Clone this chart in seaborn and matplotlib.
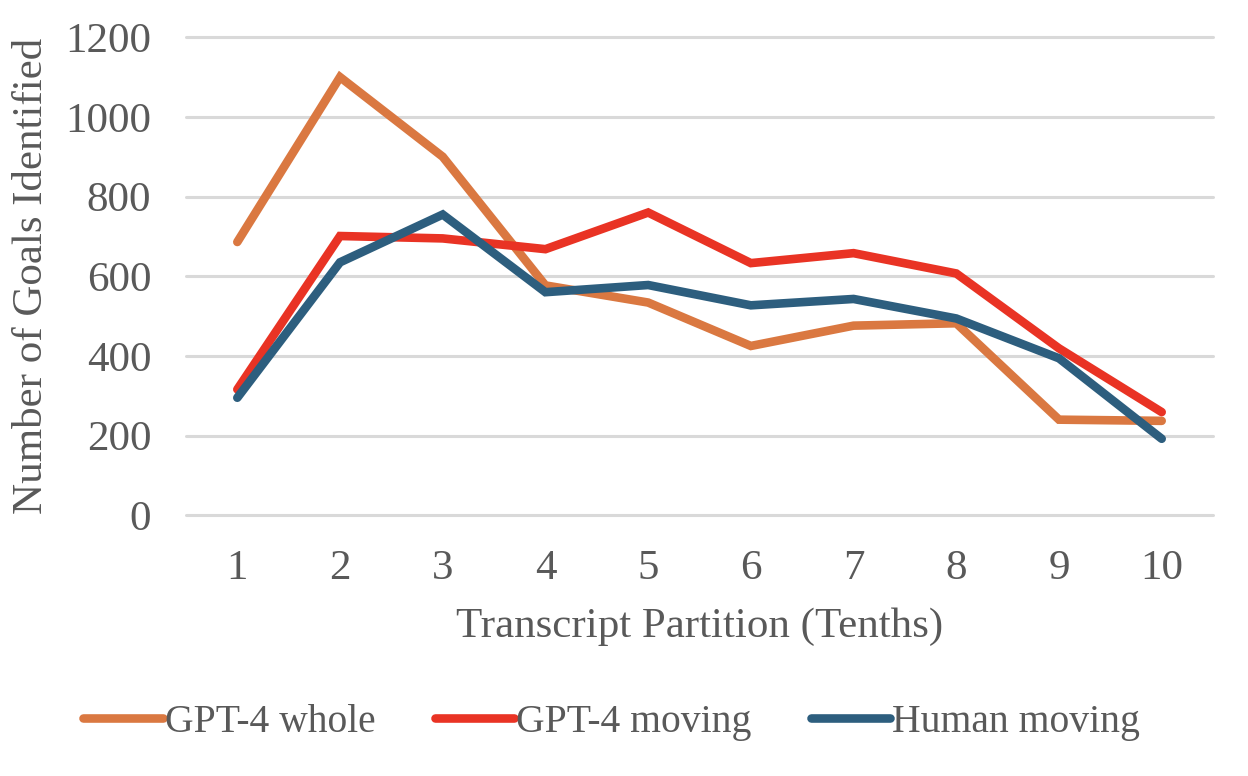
import pandas as pd
import seaborn as sns
import matplotlib.pyplot as plt

# data
partition = [1, 2, 3, 4, 5, 6, 7, 8, 9, 10]
gpt4_whole = [686, 1100, 900, 577, 534, 425, 476, 482, 240, 237]
gpt4_moving = [316, 701, 695, 668, 760, 633, 658, 607, 419, 259]
human_moving = [295, 635, 755, 560, 578, 527, 543, 494, 394, 192]
series_names = ["GPT-4 whole", "GPT-4 moving", "Human moving"]
colors = ["#DA7841", "#E93324", "#2D5E7E"]

df = pd.DataFrame({
    "Transcript Partition (Tenths)": partition * 3,
    "Number of Goals Identified": gpt4_whole + gpt4_moving + human_moving,
    "series": [s for s in series_names for _ in partition],
})

sns.set_style("white")
plt.rcParams["font.family"] = ["Liberation Serif", "DejaVu Serif"]
grey = "#595959"

fig = plt.figure(figsize=(12.48, 7.76), dpi=100)
ax = fig.add_axes([0.149, 0.336, 0.823, 0.616])

sns.lineplot(data=df, x="Transcript Partition (Tenths)", y="Number of Goals Identified",
             hue="series", palette=colors, linewidth=6.2, ax=ax,
             solid_capstyle="round", solid_joinstyle="miter")

ax.set_xlim(0.5, 10.5)
ax.set_ylim(0, 1200)
ax.set_xticks(partition)
ax.set_yticks(range(0, 1201, 200))
ax.yaxis.grid(True, color="#D9D9D9", linewidth=2.2)
for gl in ax.get_ygridlines():
    gl.set_clip_on(False)
ax.set_axisbelow(True)
for s in ax.spines.values():
    s.set_visible(False)
ax.tick_params(axis="both", length=0, labelsize=31, labelcolor=grey)
ax.tick_params(axis="x", pad=25)
ax.tick_params(axis="y", pad=25)
ax.set_xlabel("Transcript Partition (Tenths)", fontsize=31, color=grey, labelpad=14)
ax.set_ylabel("Number of Goals Identified", fontsize=31, color=grey, labelpad=10)

ax.legend(loc="center", bbox_to_anchor=(0.49, 0.069), bbox_transform=fig.transFigure,
          ncol=3, frameon=False, fontsize=28.5, labelcolor=grey,
          handlelength=2.0, handletextpad=0.05, columnspacing=1.5, title=None)

fig.savefig("out.png", dpi=100)
